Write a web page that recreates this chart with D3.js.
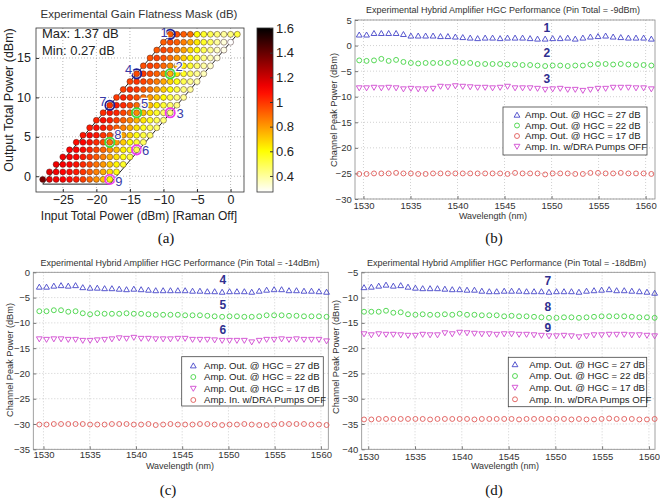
<!DOCTYPE html>
<html>
<head>
<meta charset="utf-8">
<script src="https://cdn.jsdelivr.net/npm/d3@7/dist/d3.min.js"></script>
<style>
  body { margin: 0; background: #fff; }
  svg { display: block; font-family: "Liberation Sans", Arial, sans-serif; }
</style>
</head>
<body>
<svg id="fig" width="660" height="502"></svg>
<script>
// ---------- data: panel (a) gain flatness mask ----------
const maskOutputNominal = [-1, 0, 1, 2, 3, 4, 5, 6, 7, 8, 9, 10, 11, 12, 13, 14, 15, 16, 17, 18];
const maskOutputMeasured = [-0.4, 0.55, 1.5, 2.45, 3.35, 4.3, 5.2, 6.15, 7.1, 8.05, 9.0, 10.0, 11.0, 12.0, 13.0, 14.0, 15.0, 16.0, 17.0, 18.0];
const maskGains = [27, 26, 25, 24, 23, 22, 21, 20, 19, 18, 17];
// flatness (dB), one row per output power (bottom to top), columns = gains 27 -> 17
const maskFlatness = [
  [1.37, 1.15, 1.12, 1.10, 1.08, 1.05, 0.98, 0.90, 0.82, 0.72, 0.62],
  [1.15, 1.12, 1.10, 1.08, 1.05, 1.00, 0.92, 0.85, 0.76, 0.66, 0.58],
  [1.13, 1.11, 1.10, 1.07, 1.02, 0.96, 0.88, 0.80, 0.70, 0.62, 0.55],
  [1.12, 1.11, 1.09, 1.05, 1.00, 0.93, 0.85, 0.76, 0.66, 0.58, 0.52],
  [1.10, 1.10, 1.08, 1.03, 0.97, 0.90, 0.82, 0.73, 0.63, 0.56, 0.50],
  [1.08, 1.10, 1.07, 1.02, 0.95, 0.88, 0.80, 0.70, 0.60, 0.54, 0.48],
  [1.06, 1.09, 1.06, 1.00, 0.94, 0.86, 0.78, 0.68, 0.58, 0.52, 0.47],
  [1.05, 1.08, 1.05, 0.99, 0.92, 0.85, 0.76, 0.66, 0.57, 0.50, 0.46],
  [1.03, 1.07, 1.04, 0.98, 0.91, 0.84, 0.75, 0.65, 0.56, 0.49, 0.45],
  [1.02, 1.06, 1.03, 0.97, 0.90, 0.83, 0.74, 0.64, 0.55, 0.48, 0.44],
  [1.00, 1.05, 1.02, 0.96, 0.89, 0.82, 0.73, 0.63, 0.54, 0.47, 0.43],
  [0.99, 1.04, 1.00, 0.95, 0.88, 0.80, 0.71, 0.61, 0.52, 0.45, 0.41],
  [0.98, 1.02, 0.99, 0.93, 0.87, 0.79, 0.70, 0.60, 0.51, 0.44, 0.40],
  [0.97, 1.00, 0.97, 0.92, 0.86, 0.77, 0.68, 0.58, 0.50, 0.42, 0.38],
  [0.96, 0.99, 0.96, 0.91, 0.84, 0.75, 0.66, 0.56, 0.48, 0.41, 0.36],
  [0.95, 0.98, 0.95, 0.90, 0.82, 0.73, 0.64, 0.54, 0.46, 0.39, 0.34],
  [0.94, 0.97, 0.94, 0.88, 0.80, 0.70, 0.61, 0.52, 0.44, 0.37, 0.32],
  [0.93, 0.96, 0.93, 0.86, 0.78, 0.67, 0.58, 0.50, 0.42, 0.35, 0.30],
  [0.92, 0.95, 0.92, 0.85, 0.76, 0.64, 0.55, 0.48, 0.40, 0.32, 0.27],
  [0.93, 0.95, 0.92, 0.88, 0.60, 0.55, 0.50, 0.45, 0.40, 0.44, 0.52]
];
const maskMarkers = [
  { id: "1", pin: -9, gain: 27, group: "hi" },
  { id: "2", pin: -9, gain: 22, group: "mid" },
  { id: "3", pin: -9, gain: 17, group: "lo" },
  { id: "4", pin: -14, gain: 27, group: "hi" },
  { id: "5", pin: -14, gain: 22, group: "mid" },
  { id: "6", pin: -14, gain: 17, group: "lo" },
  { id: "7", pin: -18, gain: 27, group: "hi" },
  { id: "8", pin: -18, gain: 22, group: "mid" },
  { id: "9", pin: -18, gain: 17, group: "lo" }
];
const maskXTicks = [-25, -20, -15, -10, -5, 0];
const maskYTicks = [0, 5, 10, 15];
const colorbarTicks = [0.4, 0.6, 0.8, 1, 1.2, 1.4, 1.6];

// ---------- data: panels (b)-(d) channel spectra ----------
const wavelengths = [1529.55, 1530.33, 1531.12, 1531.90, 1532.68, 1533.47, 1534.25, 1535.04, 1535.82, 1536.61,
  1537.40, 1538.19, 1538.98, 1539.77, 1540.56, 1541.35, 1542.14, 1542.94, 1543.73, 1544.53,
  1545.32, 1546.12, 1546.92, 1547.72, 1548.51, 1549.32, 1550.12, 1550.92, 1551.72, 1552.52,
  1553.33, 1554.13, 1554.94, 1555.75, 1556.55, 1557.36, 1558.17, 1558.98, 1559.79, 1560.61];
const wlTicks = [1530, 1535, 1540, 1545, 1550, 1555, 1560];

// Pin total = -9 dBm
const b_hgc27 = [2.1, 2.1, 2.4, 2.4, 2.4, 2.4, 2.2, 1.9, 1.9, 1.9, 1.9, 1.8, 1.8, 1.7, 1.6, 1.5, 1.4, 1.5, 1.5, 1.4,
  1.5, 1.5, 1.5, 1.4, 1.3, 1.3, 1.4, 1.4, 1.5, 1.3, 1.5, 1.7, 1.8, 1.9, 1.7, 1.6, 1.5, 1.5, 1.5, 1.3];
const b_hgc22 = [-2.9, -3.0, -2.9, -2.6, -3.0, -2.8, -3.2, -3.4, -3.5, -3.4, -3.4, -3.4, -3.4, -3.2, -3.4, -3.4, -3.6, -3.6, -3.6, -3.6,
  -3.7, -3.7, -3.8, -3.8, -3.9, -4.0, -3.9, -3.9, -4.0, -3.9, -3.9, -3.7, -3.6, -3.6, -3.7, -3.6, -3.7, -3.8, -3.8, -3.9];
const b_hgc17 = [-8.3, -8.3, -8.2, -8.3, -8.2, -8.3, -8.5, -8.4, -8.5, -8.5, -8.4, -8.0, -8.1, -7.9, -8.0, -8.1, -8.2, -8.2, -8.3, -8.2,
  -8.0, -8.3, -8.3, -8.3, -8.4, -8.6, -8.5, -8.4, -8.6, -8.6, -8.8, -8.6, -8.4, -8.4, -8.2, -8.2, -8.2, -8.3, -8.3, -8.5];
const b_ampIn = [-25.1, -25.1, -25.0, -25.0, -25.0, -24.9, -25.0, -25.0, -25.1, -25.1, -25.0, -25.0, -25.0, -25.0, -25.0, -25.0, -25.0, -25.0, -25.0, -25.0,
  -25.1, -24.9, -25.0, -25.0, -25.0, -25.2, -25.0, -25.0, -25.0, -25.1, -25.1, -24.9, -24.9, -25.0, -25.0, -24.9, -25.0, -25.0, -25.0, -25.1];

// Pin total = -14 dBm
const c_hgc27 = [-2.9, -2.9, -2.7, -2.6, -2.7, -2.6, -3.0, -3.1, -3.1, -3.2, -3.2, -3.3, -3.4, -3.3, -3.4, -3.5, -3.6, -3.6, -3.6, -3.6,
  -3.6, -3.7, -3.7, -3.8, -3.8, -3.9, -3.8, -3.8, -3.8, -3.9, -3.7, -3.5, -3.4, -3.4, -3.6, -3.6, -3.7, -3.7, -3.8, -3.9];
const c_hgc22 = [-7.7, -7.7, -7.5, -7.5, -7.8, -7.7, -8.1, -8.3, -8.1, -8.2, -8.2, -8.2, -8.1, -8.2, -8.2, -8.3, -8.4, -8.4, -8.4, -8.4,
  -8.5, -8.5, -8.5, -8.6, -8.7, -8.8, -8.7, -8.7, -8.8, -8.8, -8.7, -8.5, -8.5, -8.5, -8.6, -8.6, -8.7, -8.7, -8.7, -8.8];
const c_hgc17 = [-13.2, -13.3, -13.2, -13.2, -13.3, -13.3, -13.5, -13.5, -13.4, -13.3, -13.2, -13.0, -13.1, -12.9, -13.1, -13.1, -13.2, -13.2, -13.2, -13.1,
  -13.1, -13.3, -13.3, -13.3, -13.4, -13.5, -13.5, -13.5, -13.5, -13.8, -13.5, -13.3, -13.3, -13.2, -13.3, -13.2, -13.3, -13.3, -13.3, -13.6];
const c_ampIn = [-30.1, -30.1, -30.0, -30.0, -30.0, -30.0, -30.0, -30.1, -30.1, -30.1, -30.0, -30.0, -30.0, -30.1, -30.1, -30.0, -30.2, -30.1, -30.0, -30.1,
  -30.1, -30.1, -30.0, -30.0, -30.1, -30.2, -30.1, -30.1, -30.0, -30.1, -30.2, -30.2, -30.1, -30.0, -30.0, -30.0, -30.0, -30.1, -30.1, -30.2];

// Pin total = -18 dBm
const d_hgc27 = [-8.0, -7.9, -7.7, -7.5, -7.7, -7.6, -7.9, -8.1, -8.2, -8.2, -8.2, -8.3, -8.4, -8.4, -8.5, -8.5, -8.7, -8.8, -8.8, -8.7,
  -8.7, -8.7, -8.8, -8.8, -8.8, -8.9, -8.8, -8.8, -8.8, -8.9, -8.7, -8.6, -8.5, -8.4, -8.6, -8.6, -8.7, -8.8, -8.9, -9.1];
const d_hgc22 = [-12.8, -12.8, -12.8, -12.6, -13.0, -12.9, -13.3, -13.4, -13.3, -13.4, -13.4, -13.3, -13.4, -13.2, -13.4, -13.4, -13.5, -13.5, -13.5, -13.7,
  -13.6, -13.7, -13.7, -13.8, -13.9, -14.0, -14.0, -13.9, -13.9, -14.0, -13.9, -13.8, -13.7, -13.7, -13.7, -13.7, -13.8, -13.9, -13.9, -14.0];
const d_hgc17 = [-17.2, -17.4, -17.2, -17.3, -17.3, -17.4, -17.5, -17.5, -17.3, -17.4, -17.4, -17.0, -17.2, -16.9, -17.0, -17.1, -17.2, -17.2, -17.3, -17.2,
  -17.2, -17.3, -17.3, -17.4, -17.5, -17.6, -17.6, -17.5, -17.6, -17.8, -17.6, -17.4, -17.4, -17.3, -17.3, -17.3, -17.4, -17.4, -17.5, -17.6];
const d_ampIn = [-34.1, -34.1, -34.0, -34.0, -34.0, -34.0, -34.0, -34.0, -34.0, -34.1, -34.0, -34.0, -34.0, -34.0, -34.0, -34.1, -34.0, -34.0, -34.0, -34.0,
  -34.0, -34.1, -34.0, -34.0, -34.0, -34.0, -34.0, -34.0, -34.1, -34.0, -34.1, -34.1, -34.0, -33.9, -34.0, -34.0, -34.0, -34.1, -34.1, -34.0];

const legendB = ["Amp. Out. @ HGC = 27 dB", "Amp. Out. @ HGC = 22 dB", "Amp. Out. @ HGC = 17 dB", "Amp. In. w/DRA Pumps OFF"];
const legendCD = ["Amp. Out. @ HGC = 27 dB", "Amp. Out. @ HGC = 22 dB", "Amp. Out. @ HGC = 17 dB", "Amp. In. w/DRA Pumps OFF"];

// ---------- styles ----------
const markerStyle = {
  up:    { color: "#4545c8", shape: "triUp" },
  dia:   { color: "#44d444", shape: "circ" },
  circ:  { color: "#e05a58", shape: "circ" },
  down:  { color: "#d048d0", shape: "triDown" }
};
const ringColors = { hi: "#1f1f96", mid: "#3ee03e", lo: "#ee3cee" };
const numColor = "#2f2f8f";

const svg = d3.select("#fig");
svg.append("rect").attr("width", 660).attr("height", 502).attr("fill", "#fff");

// ================= panel (a) =================
(function panelA() {
  const L = 36, R = 244, T = 28, B = 192;
  const x = d3.scaleLinear().domain([-29, 2]).range([L, R]);
  const y = d3.scaleLinear().domain([-2, 18.8]).range([B, T]);
  const cbMin = 0.27, cbMax = 1.6, span = cbMax - cbMin;
  // reversed "hot" colormap
  const color = d3.scaleLinear()
    .domain([cbMax, cbMax - 0.375 * span, cbMax - 0.75 * span, cbMin])
    .range(["#000000", "#ff0000", "#ffff00", "#ffffff"]);

  const g = svg.append("g");
  // grid
  g.selectAll(".gx").data(maskXTicks).join("line")
    .attr("x1", d => x(d)).attr("x2", d => x(d)).attr("y1", T).attr("y2", B)
    .attr("stroke", "#9a9a9a").attr("stroke-width", 0.7).attr("stroke-dasharray", "1,2");
  g.selectAll(".gy").data(maskYTicks).join("line")
    .attr("y1", d => y(d)).attr("y2", d => y(d)).attr("x1", L).attr("x2", R)
    .attr("stroke", "#9a9a9a").attr("stroke-width", 0.7).attr("stroke-dasharray", "1,2");

  // region outline
  const outline = [[-28, -1], [-18, -1], [1, 18], [-9, 18], [-28, -1]];
  g.append("path")
    .attr("d", d3.line().x(d => x(d[0])).y(d => y(d[1]))(outline))
    .attr("fill", "none").attr("stroke", "#222").attr("stroke-width", 1);

  // dots
  const dots = [];
  maskOutputNominal.forEach((pout, r) => {
    maskGains.forEach((gain, c) => {
      dots.push({ pin: pout - gain, pout: maskOutputMeasured[r], v: maskFlatness[r][c], gain });
    });
  });
  g.selectAll(".dot").data(dots).join("circle")
    .attr("cx", d => x(d.pin)).attr("cy", d => y(d.pout)).attr("r", 3)
    .attr("fill", d => color(d.v)).attr("stroke", "#3a2020").attr("stroke-width", 0.45);

  // highlighted operating points
  const labelOffset = { "1": [-6, -2], "2": [9, -7], "3": [10, 1], "4": [-8, -4], "5": [8, -9],
    "6": [9, 1], "7": [-7, -4], "8": [8, -8], "9": [9, 2] };
  maskMarkers.forEach(m => {
    const dot = dots.find(d => d.pin === m.pin && d.gain === m.gain);
    const cx = x(dot.pin), cy = y(dot.pout);
    g.append("circle").attr("cx", cx).attr("cy", cy).attr("r", 4.7)
      .attr("fill", "none").attr("stroke", ringColors[m.group]).attr("stroke-width", 1.8);
    const [dx, dy] = labelOffset[m.id];
    g.append("text").attr("x", cx + dx).attr("y", cy + dy).attr("dy", "0.35em")
      .attr("text-anchor", "middle").attr("font-size", 13).attr("fill", "#3a3aa6")
      .attr("stroke", "#fff").attr("stroke-width", 2.5).attr("paint-order", "stroke")
      .text(m.id);
  });

  // frame + ticks
  g.append("rect").attr("x", L).attr("y", T).attr("width", R - L).attr("height", B - T)
    .attr("fill", "none").attr("stroke", "#333").attr("stroke-width", 0.8);
  const ax = g.append("g").attr("transform", `translate(0,${B})`)
    .call(d3.axisBottom(x).tickValues(maskXTicks).tickSize(-3).tickPadding(3.5));
  const ay = g.append("g").attr("transform", `translate(${L},0)`)
    .call(d3.axisLeft(y).tickValues(maskYTicks).tickSize(-3).tickPadding(5));
  [ax, ay].forEach(a => {
    a.select(".domain").remove();
    a.selectAll("line").attr("stroke", "#333");
    a.selectAll("text").attr("font-size", 12.5).attr("fill", "#222").attr("font-family", "Liberation Sans, Arial, sans-serif");
  });

  g.append("text").attr("x", 42).attr("y", 38).attr("font-size", 13).attr("fill", "#222").text("Max: 1.37 dB");
  g.append("text").attr("x", 42).attr("y", 55).attr("font-size", 13).attr("fill", "#222").text("Min: 0.27 dB");

  g.append("text").attr("x", 139).attr("y", 18).attr("text-anchor", "middle")
    .attr("font-size", 11.5).attr("fill", "#333").text("Experimental Gain Flatness Mask (dB)");
  g.append("text").attr("x", 139).attr("y", 220).attr("text-anchor", "middle")
    .attr("font-size", 12).attr("fill", "#222").text("Input Total Power (dBm) [Raman Off]");
  g.append("text").attr("transform", "translate(13,100) rotate(-90)").attr("text-anchor", "middle")
    .attr("font-size", 12.5).attr("fill", "#222").text("Output Total Power (dBm)");

  // colorbar
  const cbL = 257, cbR = 273;
  const cy = d3.scaleLinear().domain([cbMin, cbMax]).range([B, T]);
  const grad = svg.append("defs").append("linearGradient").attr("id", "hotbar")
    .attr("x1", 0).attr("y1", 1).attr("x2", 0).attr("y2", 0);
  d3.range(0, 1.0001, 0.05).forEach(t => {
    grad.append("stop").attr("offset", t).attr("stop-color", color(cbMin + t * span));
  });
  g.append("rect").attr("x", cbL).attr("y", T).attr("width", cbR - cbL).attr("height", B - T)
    .attr("fill", "url(#hotbar)").attr("stroke", "#333").attr("stroke-width", 0.8);
  const ac = g.append("g").attr("transform", `translate(${cbR},0)`)
    .call(d3.axisRight(cy).tickValues(colorbarTicks).tickSize(-3).tickPadding(3).tickFormat(d3.format("")));
  ac.select(".domain").remove();
  ac.selectAll("line").attr("stroke", "#333");
  ac.selectAll("text").attr("font-size", 13).attr("fill", "#222").attr("font-family", "Liberation Sans, Arial, sans-serif");
})();

// ================= panels (b)-(d) =================
function symbolPath(shape) {
  if (shape === "triUp") return "M0,-2.8L2.9,2.2L-2.9,2.2Z";
  if (shape === "triDown") return "M0,2.8L2.9,-2.2L-2.9,-2.2Z";
  return d3.symbol(d3.symbolCircle, 19)();
}

function drawSpectrum(cfg) {
  const { L, R, T, B } = cfg.box;
  const x = d3.scaleLinear().domain(cfg.xDomain).range([L, R]);
  const y = d3.scaleLinear().domain(cfg.yDomain).range([B, T]);
  const g = svg.append("g");

  g.selectAll(".gx").data(wlTicks).join("line")
    .attr("x1", d => x(d)).attr("x2", d => x(d)).attr("y1", T).attr("y2", B)
    .attr("stroke", "#bdbdbd").attr("stroke-width", 0.7).attr("stroke-dasharray", "1,2");
  g.selectAll(".gy").data(cfg.yTicks).join("line")
    .attr("y1", d => y(d)).attr("y2", d => y(d)).attr("x1", L).attr("x2", R)
    .attr("stroke", "#bdbdbd").attr("stroke-width", 0.7).attr("stroke-dasharray", "1,2");

  g.append("rect").attr("x", L).attr("y", T).attr("width", R - L).attr("height", B - T)
    .attr("fill", "none").attr("stroke", "#8a8a8a").attr("stroke-width", 0.8);

  const ax = g.append("g").attr("transform", `translate(0,${B})`)
    .call(d3.axisBottom(x).tickValues(wlTicks).tickSize(-3).tickPadding(cfg.xPad).tickFormat(d3.format("d")));
  const ay = g.append("g").attr("transform", `translate(${L},0)`)
    .call(d3.axisLeft(y).tickValues(cfg.yTicks).tickSize(-3).tickPadding(3.3));
  [ax, ay].forEach(a => {
    a.select(".domain").remove();
    a.selectAll("line").attr("stroke", "#777");
    a.selectAll("text").attr("font-size", 9.5).attr("fill", "#333").attr("font-family", "Liberation Sans, Arial, sans-serif");
  });

  // series
  cfg.series.forEach(s => {
    const st = markerStyle[s.marker];
    g.append("g").selectAll("path").data(s.values).join("path")
      .attr("transform", (d, i) => `translate(${x(wavelengths[i])},${y(d)})`)
      .attr("d", symbolPath(st.shape))
      .attr("fill", "none").attr("stroke", st.color).attr("stroke-width", 0.9);
  });

  // operating point numbers
  cfg.numbers.forEach(n => {
    g.append("text").attr("x", x(n.wl)).attr("y", y(n.v)).attr("dy", "0.35em")
      .attr("text-anchor", "middle").attr("font-size", 12).attr("font-weight", "bold")
      .attr("fill", numColor).text(n.id);
  });

  // legend
  const lg = cfg.legend;
  g.append("rect").attr("x", lg.x0).attr("y", lg.y0).attr("width", lg.x1 - lg.x0).attr("height", lg.y1 - lg.y0)
    .attr("fill", "#fff").attr("stroke", "#444").attr("stroke-width", 0.8);
  cfg.legendOrder.forEach((mk, i) => {
    const st = markerStyle[mk];
    const yy = lg.rows[i];
    g.append("path").attr("transform", `translate(${lg.icon},${yy})`).attr("d", symbolPath(st.shape))
      .attr("fill", "none").attr("stroke", st.color).attr("stroke-width", 0.9);
    g.append("text").attr("x", lg.text).attr("y", yy).attr("dy", "0.35em")
      .attr("font-size", 9.6).attr("fill", "#222").text(cfg.legendLabels[i]);
  });

  g.append("text").attr("x", cfg.titleX).attr("y", cfg.titleY).attr("text-anchor", "middle")
    .attr("font-size", 9).attr("fill", "#333").text(cfg.title);
  g.append("text").attr("x", cfg.xLabelX).attr("y", cfg.xLabelY).attr("text-anchor", "middle")
    .attr("font-size", 9).attr("fill", "#333").text("Wavelength (nm)");
  g.append("text").attr("transform", `translate(${cfg.yLabelX},${cfg.yLabelY}) rotate(-90)`)
    .attr("text-anchor", "middle").attr("font-size", 9.2).attr("fill", "#333").text("Channel Peak Power (dBm)");
}

drawSpectrum({
  box: { L: 355, R: 655, T: 20, B: 199 },
  xDomain: [1529.1, 1561], yDomain: [-30, 5], yTicks: [-30, -25, -20, -15, -10, -5, 0, 5], xPad: 3.7,
  series: [
    { values: b_ampIn, marker: "circ" },
    { values: b_hgc17, marker: "down" },
    { values: b_hgc22, marker: "dia" },
    { values: b_hgc27, marker: "up" }
  ],
  numbers: [{ id: "1", wl: 1549.5, v: 3.4 }, { id: "2", wl: 1549.5, v: -1.5 }, { id: "3", wl: 1549.5, v: -6.5 }],
  legend: { x0: 503, x1: 647, y0: 107, y1: 155, rows: [115, 125.5, 136, 146.5], icon: 517, text: 525 },
  legendOrder: ["up", "dia", "circ", "down"], legendLabels: legendB,
  title: "Experimental Hybrid Amplifier HGC Performance (Pin Total = -9dBm)", titleX: 503, titleY: 13,
  xLabelX: 493, xLabelY: 218.5, yLabelX: 337, yLabelY: 110
});

drawSpectrum({
  box: { L: 33.3, R: 328.3, T: 272.3, B: 449.3 },
  xDomain: [1528.9, 1560.8], yDomain: [-35, 0], yTicks: [-35, -30, -25, -20, -15, -10, -5, 0], xPad: 2.4,
  series: [
    { values: c_ampIn, marker: "circ" },
    { values: c_hgc17, marker: "down" },
    { values: c_hgc22, marker: "dia" },
    { values: c_hgc27, marker: "up" }
  ],
  numbers: [{ id: "4", wl: 1549.4, v: -1.4 }, { id: "5", wl: 1549.4, v: -6.5 }, { id: "6", wl: 1549.4, v: -11.3 }],
  legend: { x0: 181.7, x1: 323.3, y0: 356.7, y1: 406, rows: [365.7, 377, 388.5, 400], icon: 193.3, text: 204 },
  legendOrder: ["up", "dia", "down", "circ"], legendLabels: legendCD,
  title: "Experimental Hybrid Amplifier HGC Performance (Pin Total = -14dBm)", titleX: 180, titleY: 266,
  xLabelX: 180, xLabelY: 468.5, yLabelX: 13, yLabelY: 360
});

drawSpectrum({
  box: { L: 361.7, R: 655, T: 272.3, B: 449.3 },
  xDomain: [1529.3, 1560.65], yDomain: [-40, -5], yTicks: [-40, -35, -30, -25, -20, -15, -10, -5], xPad: 4,
  series: [
    { values: d_ampIn, marker: "circ" },
    { values: d_hgc17, marker: "down" },
    { values: d_hgc22, marker: "dia" },
    { values: d_hgc27, marker: "up" }
  ],
  numbers: [{ id: "7", wl: 1549.2, v: -6.7 }, { id: "8", wl: 1549.2, v: -11.8 }, { id: "9", wl: 1549.2, v: -15.9 }],
  legend: { x0: 508.3, x1: 646.7, y0: 357.3, y1: 406.7, rows: [364.5, 376, 387.5, 399.3], icon: 515, text: 529.3 },
  legendOrder: ["up", "dia", "down", "circ"], legendLabels: legendCD,
  title: "Experimental Hybrid Amplifier HGC Performance (Pin Total = -18dBm)", titleX: 506.7, titleY: 266,
  xLabelX: 505, xLabelY: 468.5, yLabelX: 339, yLabelY: 357
});

// subfigure captions
const captions = [
  { t: "(a)", x: 166, y: 243 }, { t: "(b)", x: 494, y: 243 },
  { t: "(c)", x: 168, y: 495 }, { t: "(d)", x: 494, y: 495 }
];
svg.selectAll(".cap").data(captions).join("text")
  .attr("x", d => d.x).attr("y", d => d.y).attr("text-anchor", "middle")
  .attr("font-family", "Liberation Serif, Times New Roman, serif").attr("font-size", 15).attr("fill", "#111")
  .text(d => d.t);
</script>
</body>
</html>
